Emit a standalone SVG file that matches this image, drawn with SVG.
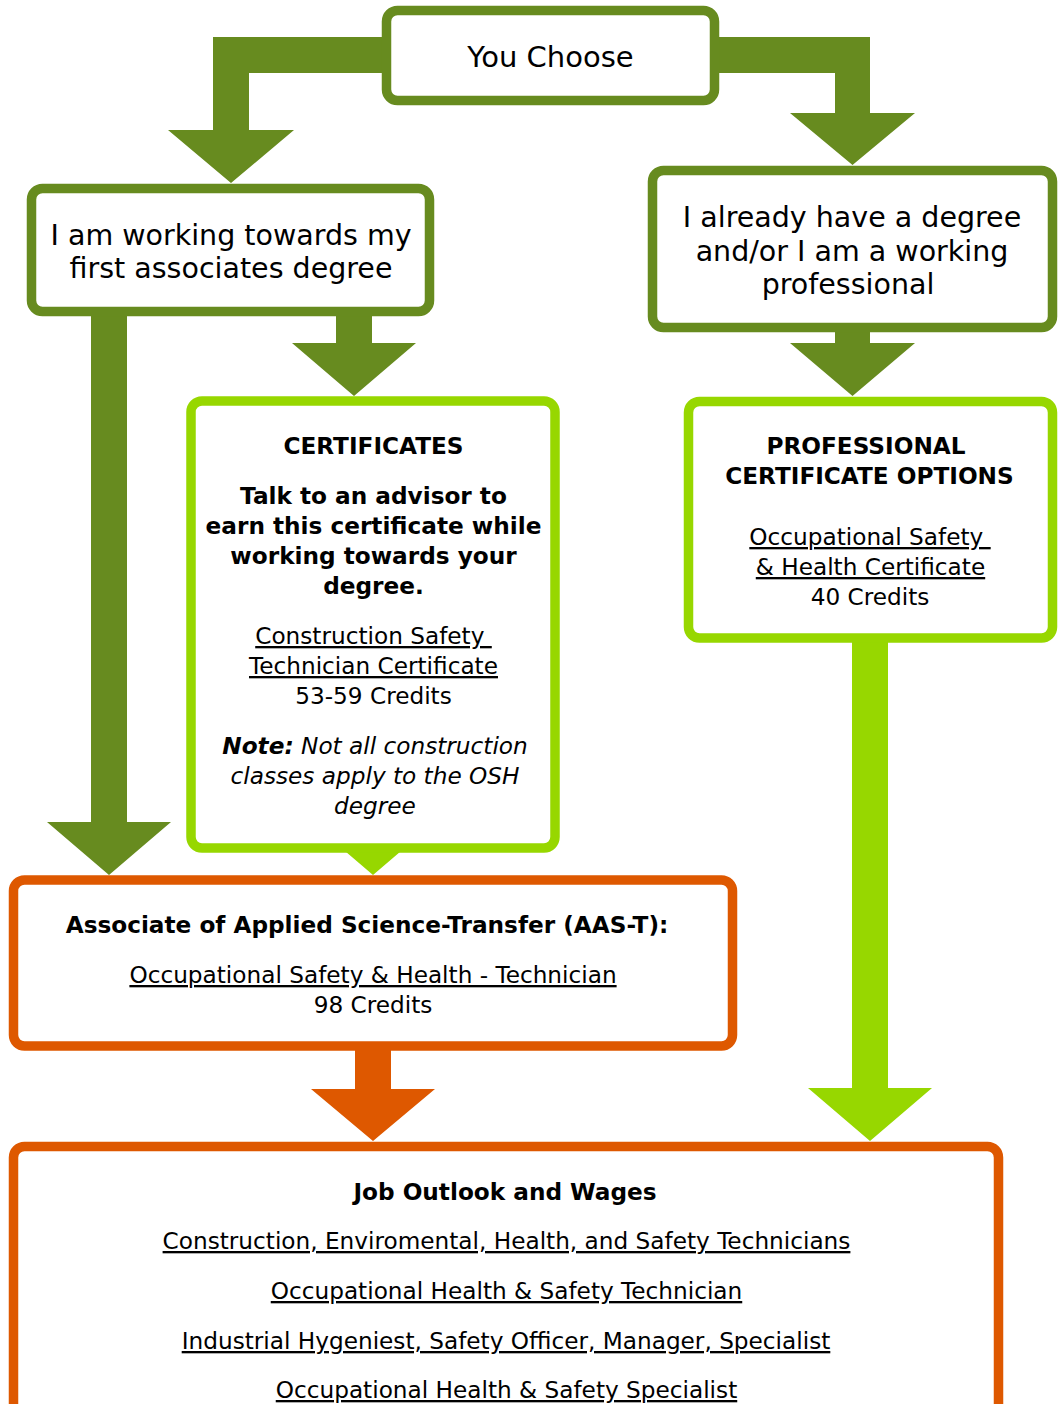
<svg xmlns="http://www.w3.org/2000/svg" width="1062" height="1404" viewBox="0 0 1062 1404">
<style>
  .dg { fill: #678b1f; }
  .lg { fill: #97d700; }
  .or { fill: #de5800; }
  .box { fill: #ffffff; stroke-width: 9.5; }
  .bdg { stroke: #678b1f; }
  .blg { stroke: #97d700; }
  .bor { stroke: #de5800; }
  text { font-family: "DejaVu Sans", Verdana, sans-serif; fill: #000000; text-anchor: middle; }
  .big { font-size: 28.5px; }
  .t { font-size: 23.2px; }
  .b { font-weight: bold; }
  .i { font-style: italic; }
  .u { text-decoration: underline; }
</style>
<rect width="1062" height="1404" fill="#ffffff"/>
<g id="connectors">
  <polygon class="dg" points="384,37 213,37 213,130 168,130 231,183 294,130 249,130 249,73 384,73"/>
  <polygon class="dg" points="716,37 870,37 870,113 915,113 852.5,165 790,113 835,113 835,73 716,73"/>
  <polygon class="dg" points="91,312 127,312 127,822 171,822 109,875 47,822 91,822"/>
  <polygon class="dg" points="336,312 372,312 372,343 416,343 354,396 292,343 336,343"/>
  <polygon class="dg" points="835,328 870,328 870,343 915,343 852.5,396 790,343 835,343"/>
  <polygon class="lg" points="355,800 391,800 391,822 435,822 373,875 311,822 355,822"/>
  <polygon class="or" points="355,1046 391,1046 391,1089 435,1089 373,1141 311,1089 355,1089"/>
  <polygon class="lg" points="852,638 888,638 888,1088 932,1088 870,1141 808,1088 852,1088"/>
</g>
<g id="you-choose">
  <rect class="box bdg" x="386.5" y="10.5" width="328" height="90" rx="11"/>
  <text class="big" x="550.5" y="67" style="font-size:29px">You Choose</text>
</g>
<g id="working-towards">
  <rect class="box bdg" x="31.5" y="188.5" width="398" height="123" rx="11"/>
  <text class="big" x="231" y="245">I am working towards my</text>
  <text class="big" x="231" y="278">first associates degree</text>
</g>
<g id="already-have">
  <rect class="box bdg" x="652.5" y="170.5" width="400" height="157" rx="11"/>
  <text class="big" x="852" y="227">I already have a degree</text>
  <text class="big" x="852" y="261">and/or I am a working</text>
  <text class="big" x="848" y="294">professional</text>
</g>
<g id="certificates">
  <rect class="box blg" x="191" y="401" width="364" height="447" rx="11"/>
  <text class="t b" x="373.5" y="454">CERTIFICATES</text>
  <text class="t b" x="373.5" y="504">Talk to an advisor to</text>
  <text class="t b" x="373.5" y="534">earn this certificate while</text>
  <text class="t b" x="373.5" y="564">working towards your</text>
  <text class="t b" x="373.5" y="594">degree.</text>
  <text class="t u" x="373.5" y="644">Construction Safety&#160;</text>
  <text class="t u" x="373.5" y="674">Technician Certificate</text>
  <text class="t" x="373.5" y="704">53-59 Credits</text>
  <text class="t i" x="375" y="754"><tspan class="b">Note:</tspan> Not all construction</text>
  <text class="t i" x="375" y="784">classes apply to the OSH</text>
  <text class="t i" x="375" y="814">degree</text>
</g>
<g id="professional-certificate">
  <rect class="box blg" x="688.5" y="401.5" width="364" height="236.5" rx="11"/>
  <text class="t b" x="866" y="454">PROFESSIONAL</text>
  <text class="t b" x="869.5" y="484">CERTIFICATE OPTIONS</text>
  <text class="t u" x="870" y="545">Occupational Safety&#160;</text>
  <text class="t u" x="870.5" y="575">&amp; Health Certificate</text>
  <text class="t" x="870" y="605">40 Credits</text>
</g>
<g id="aas-t">
  <rect class="box bor" x="13.5" y="880" width="719" height="166" rx="11"/>
  <text class="t b" x="367" y="933">Associate of Applied Science-Transfer (AAS-T):</text>
  <text class="t u" x="373" y="983">Occupational Safety &amp; Health - Technician</text>
  <text class="t" x="373" y="1013">98 Credits</text>
</g>
<g id="job-outlook">
  <rect class="box bor" x="13.5" y="1146.5" width="985" height="300" rx="11"/>
  <text class="t b" x="505" y="1200">Job Outlook and Wages</text>
  <text class="t u" x="506.5" y="1249">Construction, Enviromental, Health, and Safety Technicians</text>
  <text class="t u" x="506.5" y="1299">Occupational Health &amp; Safety Technician</text>
  <text class="t u" x="506" y="1349">Industrial Hygeniest, Safety Officer, Manager, Specialist</text>
  <text class="t u" x="506.5" y="1398">Occupational Health &amp; Safety Specialist</text>
</g>
</svg>
